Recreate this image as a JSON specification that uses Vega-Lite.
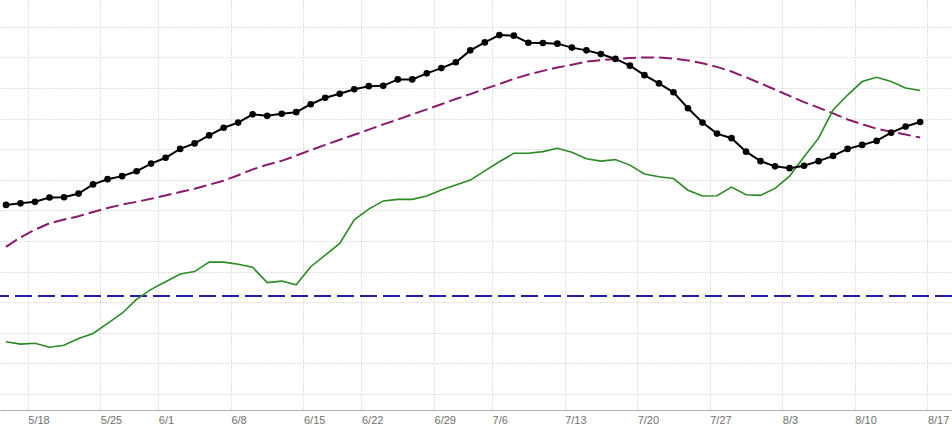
{
  "$schema": "https://vega.github.io/schema/vega-lite/v6.json",
  "description": "Daily series with moving average, secondary series and a reference level",
  "width": 952,
  "height": 410,
  "autosize": {"type": "none"},
  "padding": {"left": 0, "top": 0, "right": 0, "bottom": 17},
  "config": {
    "view": {"stroke": null},
    "axis": {
      "gridColor": "#c4c4c4",
      "gridDash": [1, 2],
      "gridWidth": 1,
      "labelFont": "Liberation Sans",
      "labelFontSize": 11,
      "labelColor": "#707070",
      "titleFont": "Liberation Sans"
    },
    "axisY": {
      "values": [0, 10, 20, 30, 40, 50, 60, 70, 80, 90, 100, 110, 120],
      "labels": false,
      "ticks": false,
      "domain": false,
      "grid": true,
      "title": null
    }
  },
  "datasets": {
    "days": [
      {"i": 0, "date": "2026-05-14", "black": 61.8, "purple": 48.1, "green": 17.1},
      {"i": 1, "date": "2026-05-15", "black": 62.3, "purple": 51.2, "green": 16.3},
      {"i": 2, "date": "2026-05-18", "black": 62.8, "purple": 53.7, "green": 16.6},
      {"i": 3, "date": "2026-05-19", "black": 64.2, "purple": 55.8, "green": 15.3},
      {"i": 4, "date": "2026-05-20", "black": 64.3, "purple": 57.0, "green": 15.9},
      {"i": 5, "date": "2026-05-21", "black": 65.5, "purple": 58.1, "green": 18.1},
      {"i": 6, "date": "2026-05-22", "black": 68.5, "purple": 59.5, "green": 19.8},
      {"i": 7, "date": "2026-05-26", "black": 70.2, "purple": 60.8, "green": 23.1},
      {"i": 8, "date": "2026-05-27", "black": 71.2, "purple": 61.9, "green": 26.4},
      {"i": 9, "date": "2026-05-28", "black": 72.8, "purple": 62.8, "green": 30.9},
      {"i": 10, "date": "2026-05-29", "black": 75.3, "purple": 63.8, "green": 34.2},
      {"i": 11, "date": "2026-06-01", "black": 77.2, "purple": 64.9, "green": 36.7},
      {"i": 12, "date": "2026-06-02", "black": 80.1, "purple": 66.0, "green": 39.2},
      {"i": 13, "date": "2026-06-03", "black": 81.9, "purple": 67.1, "green": 40.0},
      {"i": 14, "date": "2026-06-04", "black": 84.5, "purple": 68.4, "green": 43.1},
      {"i": 15, "date": "2026-06-05", "black": 87.0, "purple": 69.7, "green": 43.1},
      {"i": 16, "date": "2026-06-08", "black": 88.7, "purple": 71.5, "green": 42.4},
      {"i": 17, "date": "2026-06-09", "black": 91.4, "purple": 73.4, "green": 41.4},
      {"i": 18, "date": "2026-06-10", "black": 90.9, "purple": 74.9, "green": 36.4},
      {"i": 19, "date": "2026-06-11", "black": 91.6, "purple": 76.2, "green": 36.9},
      {"i": 20, "date": "2026-06-12", "black": 92.1, "purple": 77.9, "green": 35.7},
      {"i": 21, "date": "2026-06-15", "black": 94.7, "purple": 79.7, "green": 41.6},
      {"i": 22, "date": "2026-06-16", "black": 96.8, "purple": 81.4, "green": 45.4},
      {"i": 23, "date": "2026-06-17", "black": 98.1, "purple": 83.1, "green": 49.2},
      {"i": 24, "date": "2026-06-18", "black": 99.6, "purple": 84.7, "green": 56.9},
      {"i": 25, "date": "2026-06-22", "black": 100.6, "purple": 86.4, "green": 60.4},
      {"i": 26, "date": "2026-06-23", "black": 100.7, "purple": 88.1, "green": 63.1},
      {"i": 27, "date": "2026-06-24", "black": 102.8, "purple": 89.7, "green": 63.6},
      {"i": 28, "date": "2026-06-25", "black": 102.8, "purple": 91.4, "green": 63.6},
      {"i": 29, "date": "2026-06-26", "black": 104.8, "purple": 93.0, "green": 64.7},
      {"i": 30, "date": "2026-06-29", "black": 106.5, "purple": 94.7, "green": 66.7},
      {"i": 31, "date": "2026-06-30", "black": 108.4, "purple": 96.4, "green": 68.3},
      {"i": 32, "date": "2026-07-01", "black": 112.3, "purple": 98.0, "green": 69.9},
      {"i": 33, "date": "2026-07-02", "black": 114.9, "purple": 99.7, "green": 72.9},
      {"i": 34, "date": "2026-07-06", "black": 117.3, "purple": 101.3, "green": 75.9},
      {"i": 35, "date": "2026-07-07", "black": 117.1, "purple": 103.0, "green": 78.7},
      {"i": 36, "date": "2026-07-08", "black": 114.8, "purple": 104.4, "green": 78.7},
      {"i": 37, "date": "2026-07-09", "black": 114.7, "purple": 105.6, "green": 79.2},
      {"i": 38, "date": "2026-07-10", "black": 114.5, "purple": 106.7, "green": 80.3},
      {"i": 39, "date": "2026-07-13", "black": 113.2, "purple": 107.6, "green": 79.0},
      {"i": 40, "date": "2026-07-14", "black": 112.3, "purple": 108.6, "green": 76.9},
      {"i": 41, "date": "2026-07-15", "black": 111.1, "purple": 109.1, "green": 76.1},
      {"i": 42, "date": "2026-07-16", "black": 109.5, "purple": 109.5, "green": 76.6},
      {"i": 43, "date": "2026-07-17", "black": 107.3, "purple": 109.8, "green": 74.8},
      {"i": 44, "date": "2026-07-20", "black": 104.2, "purple": 110.0, "green": 71.9},
      {"i": 45, "date": "2026-07-21", "black": 101.5, "purple": 110.0, "green": 71.0},
      {"i": 46, "date": "2026-07-22", "black": 98.6, "purple": 109.6, "green": 70.4},
      {"i": 47, "date": "2026-07-23", "black": 93.4, "purple": 109.0, "green": 66.6},
      {"i": 48, "date": "2026-07-24", "black": 88.7, "purple": 108.1, "green": 64.7},
      {"i": 49, "date": "2026-07-27", "black": 85.1, "purple": 106.9, "green": 64.8},
      {"i": 50, "date": "2026-07-28", "black": 83.6, "purple": 105.4, "green": 67.6},
      {"i": 51, "date": "2026-07-29", "black": 79.2, "purple": 103.5, "green": 65.1},
      {"i": 52, "date": "2026-07-30", "black": 76.1, "purple": 101.5, "green": 64.9},
      {"i": 53, "date": "2026-07-31", "black": 74.4, "purple": 99.5, "green": 67.2},
      {"i": 54, "date": "2026-08-03", "black": 73.8, "purple": 97.4, "green": 71.2},
      {"i": 55, "date": "2026-08-04", "black": 74.6, "purple": 95.4, "green": 77.5},
      {"i": 56, "date": "2026-08-05", "black": 76.1, "purple": 93.6, "green": 83.6},
      {"i": 57, "date": "2026-08-06", "black": 77.8, "purple": 91.7, "green": 92.8},
      {"i": 58, "date": "2026-08-07", "black": 80.1, "purple": 89.7, "green": 97.7},
      {"i": 59, "date": "2026-08-10", "black": 81.4, "purple": 88.2, "green": 102.1},
      {"i": 60, "date": "2026-08-11", "black": 82.7, "purple": 86.7, "green": 103.5},
      {"i": 61, "date": "2026-08-12", "black": 85.4, "purple": 85.7, "green": 102.1},
      {"i": 62, "date": "2026-08-13", "black": 87.4, "purple": 84.8, "green": 100.0},
      {"i": 63, "date": "2026-08-14", "black": 88.9, "purple": 83.8, "green": 99.2}
    ],
    "level": [{"value": 32.0}]
  },
  "data": {"name": "days"},
  "encoding": {
    "x": {
      "field": "i",
      "type": "quantitative",
      "title": null,
      "scale": {"domain": [-0.4135, 65.196], "nice": false, "zero": false},
      "axis": {
        "values": [1.5, 6.5, 10.5, 15.5, 20.5, 24.5, 29.5, 33.5, 38.5, 43.5, 48.5, 53.5, 58.5, 63.5],
        "labelExpr": "['5/18','5/25','6/1','6/8','6/15','6/22','6/29','7/6','7/13','7/20','7/27','8/3','8/10','8/17'][indexof([1.5,6.5,10.5,15.5,20.5,24.5,29.5,33.5,38.5,43.5,48.5,53.5,58.5,63.5], datum.value)]",
        "labelAlign": "left",
        "labelBaseline": "top",
        "labelPadding": 4,
        "labelFlush": false,
        "labelOverlap": false,
        "ticks": false,
        "domainColor": "#b0b0b0",
        "domainWidth": 1.2,
        "grid": true
      }
    }
  },
  "layer": [
    {
      "data": {"name": "level"},
      "mark": {"type": "rule", "color": "#1e1eb4", "strokeWidth": 2, "strokeDash": [17, 6]},
      "encoding": {
        "x": null,
        "y": {
          "field": "value",
          "type": "quantitative",
          "scale": {"domain": [-5.23, 128.76], "nice": false, "zero": false}
        }
      }
    },
    {
      "mark": {"type": "line", "color": "#8a1a6c", "strokeWidth": 2, "strokeDash": [13, 5]},
      "encoding": {"y": {"field": "purple", "type": "quantitative"}}
    },
    {
      "mark": {"type": "line", "color": "#2a8a24", "strokeWidth": 1.6},
      "encoding": {"y": {"field": "green", "type": "quantitative"}}
    },
    {
      "mark": {"type": "line", "color": "#000000", "strokeWidth": 2, "point": {"filled": true, "size": 44, "color": "#000000"}},
      "encoding": {"y": {"field": "black", "type": "quantitative"}}
    }
  ]
}
